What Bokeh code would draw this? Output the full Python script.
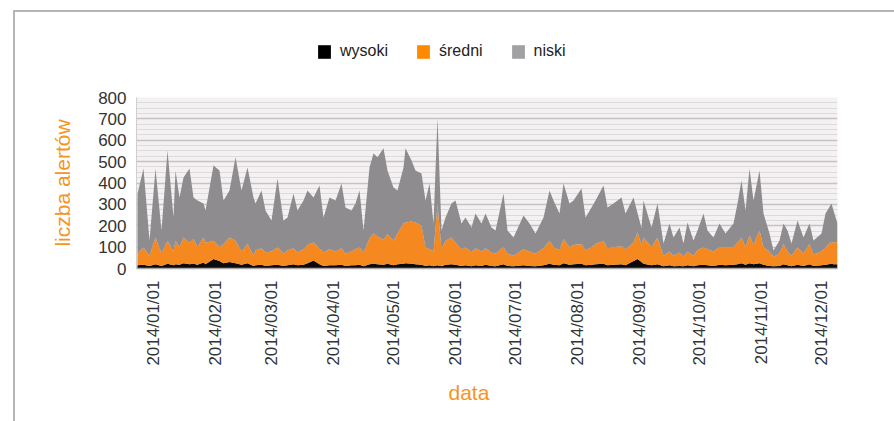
import math
import pandas as pd
from bokeh.plotting import figure
from bokeh.layouts import column
from bokeh.models import (ColumnDataSource, FixedTicker, DatetimeTickFormatter,
                          Range1d, Legend, LegendItem, Title)
from bokeh.embed import file_html
from bokeh.resources import INLINE

# ---------------- data ----------------
dates = [
    "2013-12-24", "2013-12-27", "2013-12-30", "2014-01-02", "2014-01-05", "2014-01-08",
    "2014-01-11", "2014-01-12", "2014-01-14", "2014-01-16", "2014-01-19", "2014-01-21",
    "2014-01-23", "2014-01-26", "2014-01-27", "2014-01-31", "2014-02-03", "2014-02-05",
    "2014-02-08", "2014-02-11", "2014-02-14", "2014-02-17", "2014-02-20", "2014-02-21",
    "2014-02-24", "2014-02-26", "2014-03-01", "2014-03-04", "2014-03-07", "2014-03-09",
    "2014-03-12", "2014-03-14", "2014-03-17", "2014-03-19", "2014-03-22", "2014-03-25",
    "2014-03-27", "2014-03-30", "2014-04-02", "2014-04-05", "2014-04-07", "2014-04-10",
    "2014-04-12", "2014-04-14", "2014-04-16", "2014-04-19", "2014-04-21", "2014-04-23",
    "2014-04-26", "2014-04-28", "2014-05-01", "2014-05-03", "2014-05-06", "2014-05-07",
    "2014-05-10", "2014-05-12", "2014-05-15", "2014-05-17", "2014-05-19", "2014-05-21",
    "2014-05-23", "2014-05-25", "2014-05-27", "2014-05-30", "2014-06-01", "2014-06-04",
    "2014-06-06", "2014-06-09", "2014-06-11", "2014-06-14", "2014-06-16", "2014-06-19",
    "2014-06-21", "2014-06-25", "2014-06-27", "2014-06-30", "2014-07-05", "2014-07-08",
    "2014-07-11", "2014-07-15", "2014-07-18", "2014-07-20", "2014-07-23", "2014-07-25",
    "2014-07-28", "2014-07-30", "2014-08-03", "2014-08-05", "2014-08-08", "2014-08-10",
    "2014-08-14", "2014-08-16", "2014-08-19", "2014-08-23", "2014-08-25", "2014-08-29",
    "2014-08-31", "2014-09-02", "2014-09-03", "2014-09-07", "2014-09-10", "2014-09-13",
    "2014-09-16", "2014-09-18", "2014-09-21", "2014-09-23", "2014-09-25", "2014-09-28",
    "2014-09-30", "2014-10-03", "2014-10-05", "2014-10-08", "2014-10-11", "2014-10-14",
    "2014-10-18", "2014-10-20", "2014-10-22", "2014-10-24", "2014-10-26", "2014-10-28",
    "2014-10-31", "2014-11-02", "2014-11-05", "2014-11-07", "2014-11-10", "2014-11-12",
    "2014-11-14", "2014-11-16", "2014-11-19", "2014-11-22", "2014-11-25", "2014-11-27",
    "2014-12-01", "2014-12-03", "2014-12-06", "2014-12-07", "2014-12-09",
]
wysoki = [
    15, 18, 12, 20, 12, 22, 15, 20, 18, 25, 20, 22,
    18, 28, 20, 45, 35, 25, 30, 25, 18, 25, 12, 15,
    18, 12, 15, 18, 12, 15, 20, 15, 18, 25, 37, 20,
    12, 15, 15, 18, 12, 15, 15, 18, 10, 20, 22, 20,
    18, 22, 15, 20, 22, 25, 22, 20, 18, 12, 15, 10,
    15, 10, 18, 20, 18, 12, 15, 10, 15, 12, 18, 12,
    10, 20, 12, 10, 15, 12, 10, 15, 22, 18, 15, 25,
    18, 20, 22, 15, 18, 20, 22, 15, 18, 20, 15, 35,
    45, 30, 22, 15, 20, 10, 15, 10, 12, 10, 15, 10,
    15, 18, 15, 12, 18, 15, 18, 20, 25, 18, 25, 20,
    25, 18, 12, 10, 12, 20, 15, 10, 18, 12, 20, 12,
    15, 18, 22, 20, 20,
]
sredni = [
    55, 80, 48, 125, 58, 108, 65, 110, 82, 120, 100, 116,
    82, 117, 100, 85, 65, 90, 115, 105, 62, 90, 48, 70,
    77, 63, 65, 82, 58, 70, 75, 60, 72, 85, 85, 75,
    63, 75, 65, 77, 58, 65, 75, 82, 65, 120, 142, 130,
    117, 138, 115, 144, 188, 190, 198, 195, 182, 86, 75, 70,
    285, 80, 112, 125, 102, 78, 85, 65, 80, 68, 77, 63,
    60, 80, 58, 50, 75, 68, 60, 80, 108, 82, 70, 113,
    82, 90, 93, 70, 82, 95, 108, 80, 82, 85, 75, 85,
    125, 80, 123, 85, 125, 50, 65, 50, 63, 45, 65, 50,
    70, 82, 75, 68, 82, 85, 82, 100, 120, 82, 130, 90,
    153, 82, 68, 45, 58, 95, 65, 50, 82, 58, 95, 53,
    65, 82, 103, 100, 105,
]
niski = [
    280, 370, 70, 323, 108, 422, 160, 329, 232, 281, 348, 194,
    218, 159, 151, 352, 359, 203, 220, 390, 285, 358, 272, 219,
    270, 196, 145, 321, 155, 154, 256, 196, 228, 255, 210, 293,
    164, 242, 238, 303, 215, 191, 214, 265, 103, 333, 374, 370,
    427, 299, 249, 201, 263, 347, 285, 244, 245, 220, 308, 131,
    407, 88, 109, 159, 198, 121, 139, 117, 162, 131, 162, 117,
    108, 251, 108, 85, 158, 131, 94, 144, 235, 218, 172, 260,
    204, 208, 259, 154, 185, 203, 258, 190, 204, 227, 167, 212,
    90, 80, 173, 92, 159, 57, 131, 85, 117, 62, 135, 71,
    93, 157, 88, 65, 111, 64, 111, 184, 267, 171, 313, 208,
    281, 157, 84, 29, 61, 96, 98, 57, 125, 75, 96, 66,
    84, 157, 179, 151, 86,
]
series_names = ["wysoki", "średni", "niski"]
y_ticks = [0, 100, 200, 300, 400, 500, 600, 700, 800]
x_ticks = ["2014-01-01", "2014-02-01", "2014-03-01", "2014-04-01", "2014-05-01",
           "2014-06-01", "2014-07-01", "2014-08-01", "2014-09-01", "2014-10-01",
           "2014-11-01", "2014-12-01"]
x_start, x_end = "2013-12-23 12:00", "2014-12-09"

# ---------------- styling ----------------
FONT = "Liberation Sans"
ORANGE = "#f7941d"
COLORS = ["#0c0a0a", "#f5891f", "#8f8c8f"]
LEG_COLORS = ["#000000", "#ff8a00", "#a1a0a3"]
W = 894
STACK = ["wysoki", "sredni", "niski"]

df = pd.DataFrame({"date": pd.to_datetime(dates), "wysoki": wysoki,
                   "sredni": sredni, "niski": niski})
source = ColumnDataSource(df)

# ---- legend strip: own small figure; its areas lie outside its y range ----
leg = figure(width=W, height=70, output_backend="svg", toolbar_location=None,
             x_axis_type="datetime", x_axis_location=None, y_axis_location=None,
             min_border_left=0, min_border_right=0, min_border_top=0, min_border_bottom=0,
             x_range=Range1d(pd.Timestamp(x_start), pd.Timestamp(x_end)),
             y_range=Range1d(-20, -10))
leg.border_fill_color = None
leg.background_fill_color = None
leg.outline_line_color = None
leg.grid.grid_line_color = None
leg_r = leg.varea_stack(STACK, x="date", color=LEG_COLORS, source=source)
legend = Legend(items=[LegendItem(label=n, renderers=[r]) for n, r in zip(series_names, leg_r)],
                orientation="horizontal", location=(180, 9),
                label_text_font=FONT, label_text_font_size="16px",
                label_text_color="#222222", glyph_width=16, glyph_height=17,
                label_standoff=8, spacing=27, padding=0, margin=0,
                border_line_color=None, background_fill_alpha=0,
                label_height=20)
leg.add_layout(legend)

# ---- main chart ----
p = figure(width=W, height=351, x_axis_type="datetime",
           x_range=Range1d(pd.Timestamp(x_start), pd.Timestamp(x_end)),
           y_range=Range1d(0, 800),
           output_backend="svg", toolbar_location=None,
           min_border_left=136, min_border_right=57,
           min_border_top=27, min_border_bottom=153)
p.border_fill_color = None
p.background_fill_color = "#f4f1f2"
p.outline_line_color = None

p.varea_stack(STACK, x="date", color=COLORS, source=source)

minor = [v for v in range(y_ticks[0], y_ticks[-1] + 1, 25) if v not in y_ticks]
p.yaxis.ticker = FixedTicker(ticks=y_ticks, minor_ticks=minor)
p.ygrid.grid_line_color = "#c6c2c3"
p.ygrid.grid_line_width = 1.5
p.ygrid.minor_grid_line_color = "#dedadb"
p.ygrid.minor_grid_line_width = 1
p.xgrid.grid_line_color = None

p.yaxis.major_label_text_font = FONT
p.yaxis.major_label_text_font_size = "17px"
p.yaxis.major_label_text_color = "#333333"
p.yaxis.major_tick_line_color = None
p.yaxis.minor_tick_line_color = None
p.yaxis.major_tick_out = 0
p.yaxis.minor_tick_out = 0
p.yaxis.axis_line_color = "#cfcfcf"
p.yaxis.major_label_standoff = 10
p.yaxis.axis_label = "liczba alertów"
p.yaxis.axis_label_text_font = FONT
p.yaxis.axis_label_text_font_size = "21px"
p.yaxis.axis_label_text_font_style = "normal"
p.yaxis.axis_label_text_color = ORANGE
p.yaxis.axis_label_standoff = 21

tick_ms = [pd.Timestamp(t).value // 10**6 for t in x_ticks]
p.xaxis.ticker = FixedTicker(ticks=tick_ms)
fmt = "%Y/%m/%d"
p.xaxis.formatter = DatetimeTickFormatter(days=fmt, months=fmt, years=fmt,
                                          hours=fmt, minutes=fmt)
p.xaxis.major_label_orientation = math.pi / 2
p.xaxis.major_label_text_font = FONT
p.xaxis.major_label_text_font_size = "17px"
p.xaxis.major_label_text_color = "#333333"
p.xaxis.major_tick_line_color = None
p.xaxis.minor_tick_line_color = None
p.xaxis.major_tick_out = 0
p.xaxis.minor_tick_out = 0
p.xaxis.axis_line_color = "#a8a8a8"
p.xaxis.axis_line_width = 1.5
p.xaxis.major_label_standoff = 12

x_title = Title(text="data", align="left", offset=312, standoff=20,
                vertical_align="bottom",
                text_font=FONT, text_font_size="21px", text_font_style="normal",
                text_color=ORANGE)
p.add_layout(x_title, "below")

layout = column(leg, p, spacing=0, styles={
    "background-color": "#ffffff",
    "background-image": "linear-gradient(#b5b5b5, #b5b5b5), linear-gradient(#b5b5b5, #b5b5b5)",
    "background-size": "100% 2px, 2px 100%",
    "background-position": "13px 10px, 13px 10px",
    "background-repeat": "no-repeat",
})

open("out.html", "w").write(file_html(layout, INLINE))
